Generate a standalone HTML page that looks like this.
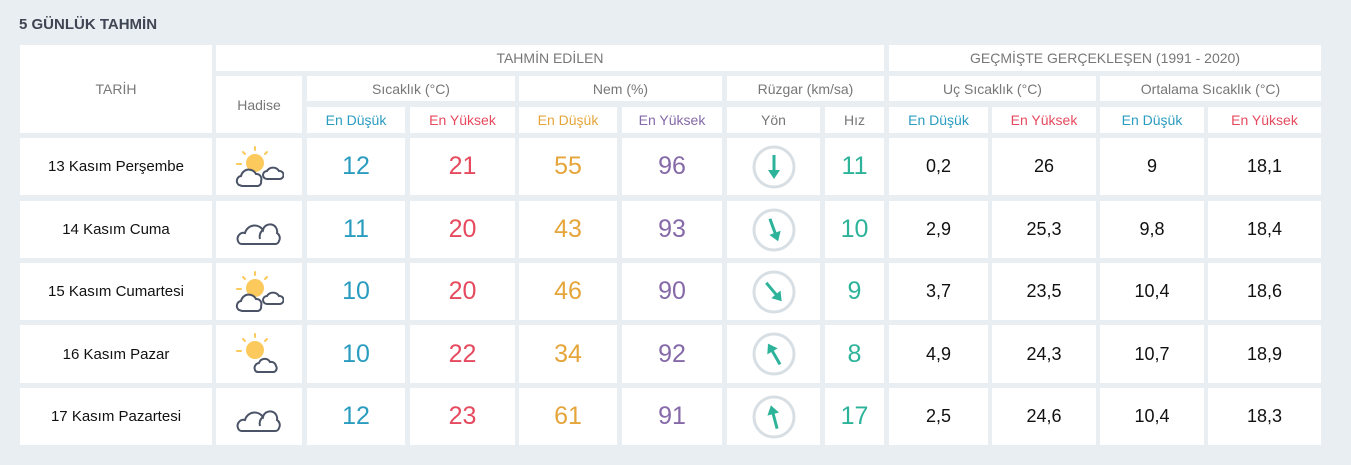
<!DOCTYPE html>
<html><head><meta charset="utf-8"><style>
body{margin:0;width:1351px;height:465px;background:#e8eef2;font-family:"Liberation Sans",sans-serif;position:relative;overflow:hidden}
.t{position:absolute;left:19px;top:16px;font-weight:bold;font-size:15px;color:#3f4552}
.c{position:absolute;background:#fff;display:flex;align-items:center;justify-content:center;text-align:center;color:#777;font-size:14px}
.b{font-size:25px}
.bl{color:#2a9cbf}.rd{color:#e64a5e}.or{color:#e5a53a}.pu{color:#8569a8}.te{color:#2db39a}.bk{color:#111;font-size:18px}
.d{color:#111;font-size:15px}
</style></head><body>
<div class="t">5 GÜNLÜK TAHMİN</div>
<div id="g"></div>
<script>
var X=[[20,212],[216,302],[307,405],[410,515],[519,617],[622,722],[727,820],[825,884],[889,988],[992,1096],[1100,1204],[1208,1321]];
var R=[[138,195],[201,258],[263,320],[325,383],[388,445]];
var h='';
function c(x1,x2,y1,y2,txt,cls){h+='<div class="c '+(cls||'')+'" style="left:'+x1+'px;top:'+y1+'px;width:'+(x2-x1)+'px;height:'+(y2-y1)+'px">'+txt+'</div>';}
c(20,212,45,133,'TARİH');
c(216,884,45,71,'TAHMİN EDİLEN');
c(889,1321,45,71,'GEÇMİŞTE GERÇEKLEŞEN (1991 - 2020)');
c(216,302,76,133,'Hadise');
c(307,515,76,101,'Sıcaklık (°C)');c(519,722,76,101,'Nem (%)');c(727,884,76,101,'Rüzgar (km/sa)');
c(889,1096,76,101,'Uç Sıcaklık (°C)');c(1100,1321,76,101,'Ortalama Sıcaklık (°C)');
var s=[['En Düşük','bl'],['En Yüksek','rd'],['En Düşük','or'],['En Yüksek','pu'],['Yön',''],['Hız',''],['En Düşük','bl'],['En Yüksek','rd'],['En Düşük','bl'],['En Yüksek','rd']];
for(var i=0;i<10;i++)c(X[i+2][0],X[i+2][1],107,133,s[i][0],s[i][1]);
var D=[['13 Kasım Perşembe',1,12,21,55,96,180,11,'0,2','26','9','18,1'],
['14 Kasım Cuma',0,11,20,43,93,160,10,'2,9','25,3','9,8','18,4'],
['15 Kasım Cumartesi',1,10,20,46,90,140,9,'3,7','23,5','10,4','18,6'],
['16 Kasım Pazar',2,10,22,34,92,-30,8,'4,9','24,3','10,7','18,9'],
['17 Kasım Pazartesi',0,12,23,61,91,-15,17,'2,5','24,6','10,4','18,3']];
var sun='<circle cx="21" cy="19" r="9" fill="#fcc95c"/><g stroke="#fcc95c" stroke-width="2" stroke-linecap="round"><line x1="21" y1="3" x2="21" y2="6"/><line x1="9" y1="8" x2="11" y2="10"/><line x1="33" y1="8" x2="31" y2="10"/><line x1="3" y1="20" x2="7" y2="20"/></g>';
var cl1='<path d="M33 35a4 4 0 0 1 0-8a7 7 0 0 1 12 0a4 4 0 0 1 1 8z" fill="#fff" stroke="#4b5366" stroke-width="2"/><path d="M5 41a5 5 0 0 1 2-9a8 8 0 0 1 15-2a5 5 0 0 1 5 7a4 4 0 0 1-3 5H8z" fill="#fff" stroke="#4b5366" stroke-width="2"/>';
var cl0='<path d="M4 34a6 6 0 0 1 7-8a10 10 0 0 1 18-3a7 7 0 0 1 14 3a6 6 0 0 1 2 8a4 4 0 0 1-4 3H8a4 4 0 0 1-4-3z" fill="#fff" stroke="#4b5366" stroke-width="2"/><path d="M29 23a8 8 0 0 0-3 9" fill="none" stroke="#4b5366" stroke-width="2"/>';
var cl2='<path d="M21 39a5 5 0 0 1 4-7a6 6 0 0 1 11-1a5 5 0 0 1 6 4a4 4 0 0 1-2 6H24a3 3 0 0 1-3-2z" fill="#fff" stroke="#4b5366" stroke-width="2"/>';
for(var r=0;r<5;r++){var y1=R[r][0],y2=R[r][1],d=D[r];
c(20,212,y1,y2,d[0],'d');
var ic=d[1]==0?cl0:(d[1]==1?sun+cl1:sun+cl2);
c(216,302,y1,y2,'<svg width="50" height="46" viewBox="0 0 50 46">'+ic+'</svg>');
c(307,405,y1,y2,d[2],'b bl');c(410,515,y1,y2,d[3],'b rd');c(519,617,y1,y2,d[4],'b or');c(622,722,y1,y2,d[5],'b pu');
c(727,820,y1,y2,'<svg width="46" height="46" viewBox="0 0 46 46"><circle cx="23" cy="23" r="20" fill="none" stroke="#d8dfe4" stroke-width="3"/><g transform="rotate('+(d[6]-180)+' 23 23)"><line x1="23" y1="11" x2="23" y2="28" stroke="#2db39a" stroke-width="3"/><polygon points="17,26 29,26 23,35" fill="#2db39a"/></g></svg>');
c(825,884,y1,y2,d[7],'b te');
c(889,988,y1,y2,d[8],'bk');c(992,1096,y1,y2,d[9],'bk');c(1100,1204,y1,y2,d[10],'bk');c(1208,1321,y1,y2,d[11],'bk');}
document.getElementById('g').innerHTML=h;
</script>
</body></html>
